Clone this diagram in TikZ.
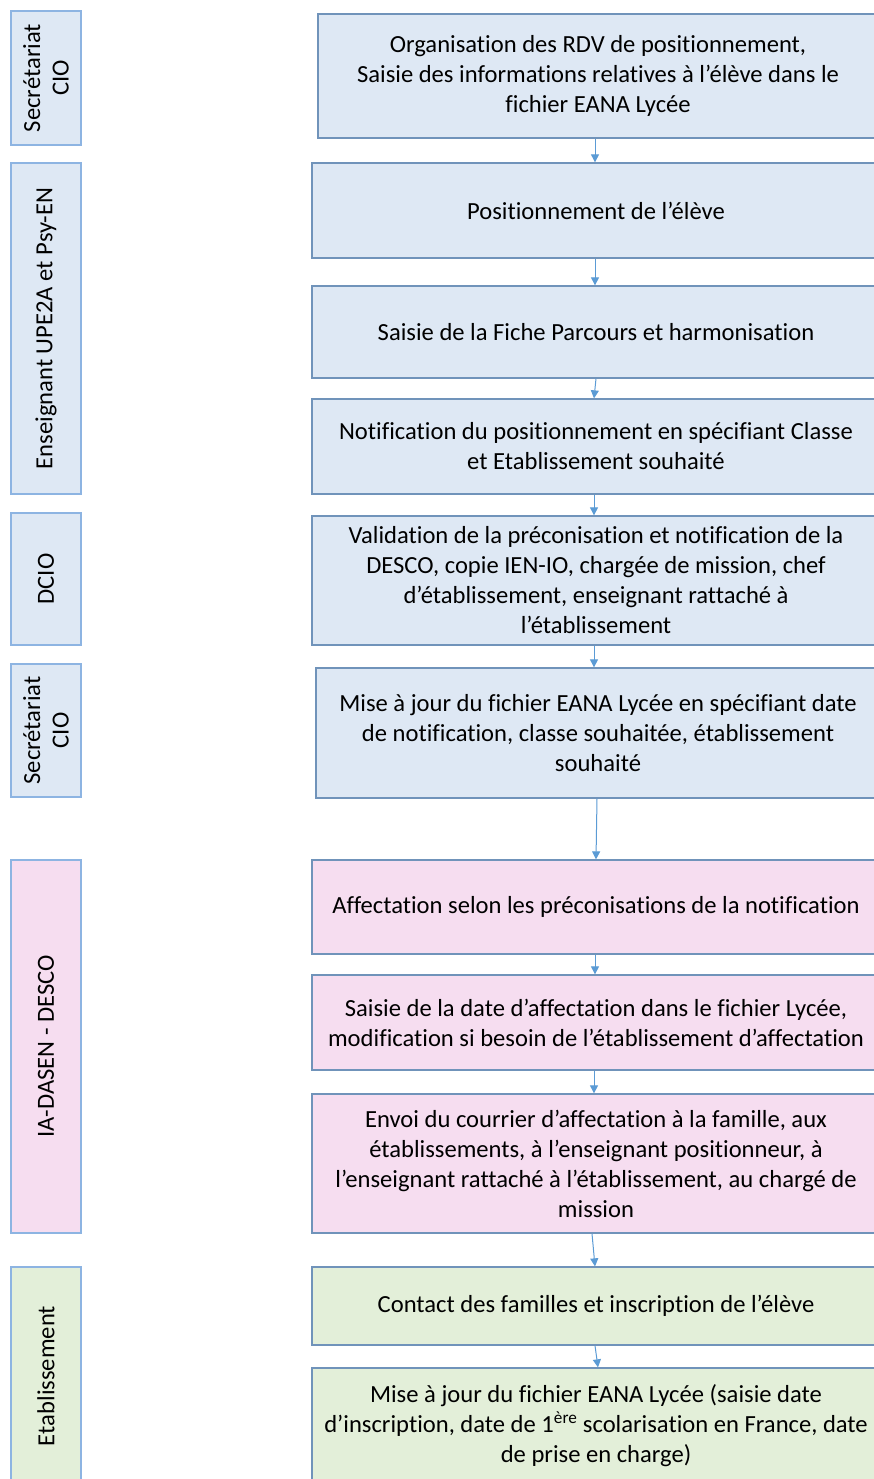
\documentclass[tikz,border=0pt]{standalone}
\usepackage{fontspec}
\setmainfont[Ligatures={NoCommon}]{Carlito}
\usetikzlibrary{arrows.meta}
\definecolor{bfill}{HTML}{DEE8F4}
\definecolor{pfill}{HTML}{F6DDF0}
\definecolor{gfill}{HTML}{E3EFD9}
\definecolor{boxline}{HTML}{7093BA}
\definecolor{laneline}{HTML}{8DB4E2}
\definecolor{arrowc}{HTML}{5B9BD5}
\tikzset{
  stepbox/.style={draw=boxline, line width=1.3pt, align=center, inner sep=0pt,
    font=\fontsize{24.6}{30}\selectfont},
  lanebox/.style={draw=laneline, line width=1.3pt, align=center, inner sep=0pt,
    rotate=90, minimum height=70pt, font=\fontsize{24.6}{28.5}\selectfont},
  flow/.style={draw=arrowc, line width=1pt, -{Triangle[width=8pt,length=8pt]}}
}
\begin{document}
\begin{tikzpicture}[x=1pt,y=-1pt]
\clip (0,0) rectangle (874,1479);
\fill[white] (0,0) rectangle (874,1479);
% lanes
\node[lanebox, fill=bfill, minimum width=134pt] (l1) at (46,78) {Secrétariat\\CIO};
\node[lanebox, fill=bfill, minimum width=331pt] (l2) at (46,328.5) {Enseignant UPE2A et Psy-EN};
\node[lanebox, fill=bfill, minimum width=132pt] (l3) at (46,579) {DCIO};
\node[lanebox, fill=bfill, minimum width=133pt] (l4) at (46,730.5) {Secrétariat\\CIO};
\node[lanebox, fill=pfill, minimum width=373pt] (l5) at (46,1046.5) {IA-DASEN - DESCO};
\node[lanebox, fill=gfill, minimum width=218pt] (l6) at (46,1376) {Etablissement};
% steps
\node[stepbox, fill=bfill, minimum width=560pt, minimum height=124pt] (b1) at (598,76)
  {Organisation des RDV de positionnement,\\Saisie des informations relatives à l’élève dans le\\fichier EANA Lycée};
\node[stepbox, fill=bfill, minimum width=568pt, minimum height=95pt] (b2) at (596,210.5)
  {Positionnement de l’élève};
\node[stepbox, fill=bfill, minimum width=568pt, minimum height=92pt] (b3) at (596,332)
  {Saisie de la Fiche Parcours et harmonisation};
\node[stepbox, fill=bfill, minimum width=568pt, minimum height=95pt] (b4) at (596,446.5)
  {Notification du positionnement en spécifiant Classe\\et Etablissement souhaité};
\node[stepbox, fill=bfill, minimum width=568pt, minimum height=129pt] (b5) at (596,580.5)
  {Validation de la préconisation et notification de la\\DESCO, copie IEN-IO, chargée de mission, chef\\d’établissement, enseignant rattaché à\\l’établissement};
\node[stepbox, fill=bfill, minimum width=564pt, minimum height=130pt] (b6) at (598,733)
  {Mise à jour du fichier EANA Lycée en spécifiant date\\de notification, classe souhaitée, établissement\\souhaité};
\node[stepbox, fill=pfill, minimum width=568pt, minimum height=94pt] (b7) at (596,907)
  {Affectation selon les préconisations de la notification};
\node[stepbox, fill=pfill, minimum width=568pt, minimum height=95pt] (b8) at (596,1022.5)
  {Saisie de la date d’affectation dans le fichier Lycée,\\modification si besoin de l’établissement d’affectation};
\node[stepbox, fill=pfill, minimum width=568pt, minimum height=139pt] (b9) at (596,1163.5)
  {Envoi du courrier d’affectation à la famille, aux\\établissements, à l’enseignant positionneur, à\\l’enseignant rattaché à l’établissement, au chargé de\\mission};
\node[stepbox, fill=gfill, minimum width=568pt, minimum height=78pt] (b10) at (596,1306)
  {Contact des familles et inscription de l’élève};
\node[stepbox, fill=gfill, minimum width=568pt, minimum height=116pt] (b11) at (596,1426)
  {Mise à jour du fichier EANA Lycée (saisie date\\d’inscription, date de 1\textsuperscript{ère} scolarisation en France, date\\de prise en charge)};
% connectors
\draw[flow] ([xshift=-3pt]b1.south) -- ([xshift=-1pt]b2.north);
\draw[flow] ([xshift=-1pt]b2.south) -- ([xshift=-1pt]b3.north);
\draw[flow] ([xshift=0pt]b3.south) -- ([xshift=-2pt]b4.north);
\draw[flow] ([xshift=-2pt]b4.south) -- ([xshift=-2pt]b5.north);
\draw[flow] ([xshift=-2pt]b5.south) -- ([xshift=-4pt]b6.north);
\draw[flow] ([xshift=-1pt]b6.south) -- ([xshift=0pt]b7.north);
\draw[flow] ([xshift=-1pt]b7.south) -- ([xshift=-1pt]b8.north);
\draw[flow] ([xshift=-2pt]b8.south) -- ([xshift=-2pt]b9.north);
\draw[flow] ([xshift=-4pt]b9.south) -- ([xshift=-1pt]b10.north);
\draw[flow] ([xshift=-1pt]b10.south) -- ([xshift=2pt]b11.north);
\end{tikzpicture}
\end{document}
